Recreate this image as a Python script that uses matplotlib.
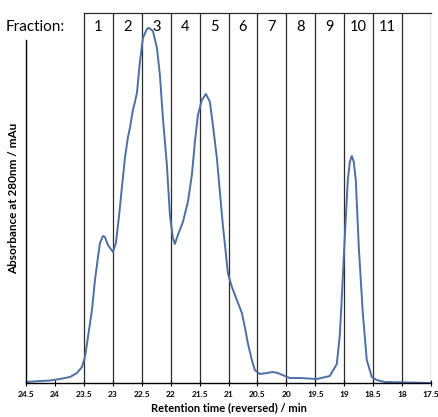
import numpy as np
import matplotlib
matplotlib.use('Agg')
import matplotlib.pyplot as plt

plt.rcParams['font.family'] = ['Lato', 'DejaVu Sans']

# chromatogram trace: retention time (min) vs absorbance (arbitrary mAu)
time = [24.500, 24.258, 24.085, 23.913, 23.740, 23.619, 23.533, 23.481, 23.429, 23.360,
        23.308, 23.256, 23.222, 23.170, 23.136, 23.084, 22.997, 22.946, 22.894, 22.842,
        22.790, 22.738, 22.704, 22.652, 22.617, 22.583, 22.531, 22.479, 22.410, 22.376,
        22.307, 22.237, 22.186, 22.134, 22.065, 22.013, 21.961, 21.927, 21.875, 21.788,
        21.702, 21.633, 21.581, 21.529, 21.460, 21.391, 21.322, 21.270, 21.201, 21.149,
        21.098, 21.063, 21.011, 20.942, 20.856, 20.769, 20.718, 20.666, 20.597, 20.545,
        20.459, 20.338, 20.234, 20.148, 20.027, 19.940, 19.767, 19.474, 19.249, 19.128,
        19.076, 19.041, 18.990, 18.938, 18.903, 18.869, 18.834, 18.800, 18.748, 18.679,
        18.610, 18.523, 18.437, 18.299, 17.500]
absorbance = [1, 2, 2.5, 4, 6, 10, 16, 26, 46, 73,
              103, 126, 140, 147, 146, 138, 131, 140, 166, 196,
              225, 246, 255, 273, 281, 290, 321, 345, 354, 355,
              352, 335, 308, 265, 218, 168, 145, 139, 148, 161,
              181, 208, 241, 268, 283, 289, 281, 258, 225, 191,
              158, 139, 110, 96, 83, 70, 56, 40, 23, 13,
              9, 10, 11, 10, 7, 5, 5, 4, 7, 19,
              48, 86, 146, 203, 221, 227, 221, 203, 136, 70,
              23, 6, 3, 1, 0]

# fraction collection windows
fraction_edges = [23.5, 23.0, 22.5, 22.0, 21.5, 21.0, 20.5, 20.0,
                  19.5, 19.0, 18.5, 18.0, 17.5]
fraction_labels = ['1', '2', '3', '4', '5', '6', '7', '8', '9', '10', '11']

xticks = [24.5, 24, 23.5, 23, 22.5, 22, 21.5, 21, 20.5, 20, 19.5, 19, 18.5, 18, 17.5]

fig = plt.figure(figsize=(4.38, 4.17), dpi=100)
ax = fig.add_axes([0.0594, 0.0815, 0.9246, 0.8875])

top = 370
ax.set_xlim(24.5, 17.5)
ax.set_ylim(0, top)

for e in fraction_edges:
    ax.plot([e, e], [0, top], color='#2b2b2b', lw=0.9, zorder=1)
ax.plot([fraction_edges[0], fraction_edges[-1]], [top, top], color='#2b2b2b', lw=0.9,
        zorder=1, clip_on=False)

for i, lab in enumerate(fraction_labels):
    mid = (fraction_edges[i] + fraction_edges[i + 1]) / 2
    ax.text(mid, 356, lab, ha='center', va='center', fontsize=10.5, zorder=3)
ax.text(-0.05, 356, 'Fraction:', transform=ax.get_yaxis_transform(),
        ha='left', va='center', fontsize=11)

ax.plot(time, absorbance, color='#4d6fa3', lw=1.4, zorder=2,
        solid_joinstyle='round', solid_capstyle='round')

ax.spines['top'].set_visible(False)
ax.spines['right'].set_visible(False)
ax.spines['left'].set_bounds(0, 343)
ax.spines['left'].set_linewidth(1.0)
ax.spines['bottom'].set_linewidth(1.0)

ax.set_yticks([])
ax.set_xticks(xticks)
ax.set_xticklabels(['%g' % t for t in xticks], fontsize=6, fontweight='bold')
ax.tick_params(axis='x', direction='inout', length=5, width=0.8, pad=3)

ax.set_xlabel('Retention time (reversed) / min', fontsize=8, fontweight='bold', labelpad=3)
ax.set_ylabel('Absorbance at 280nm / mAu', fontsize=8.5, fontweight='bold', labelpad=5)

fig.savefig('out.png', dpi=100)
